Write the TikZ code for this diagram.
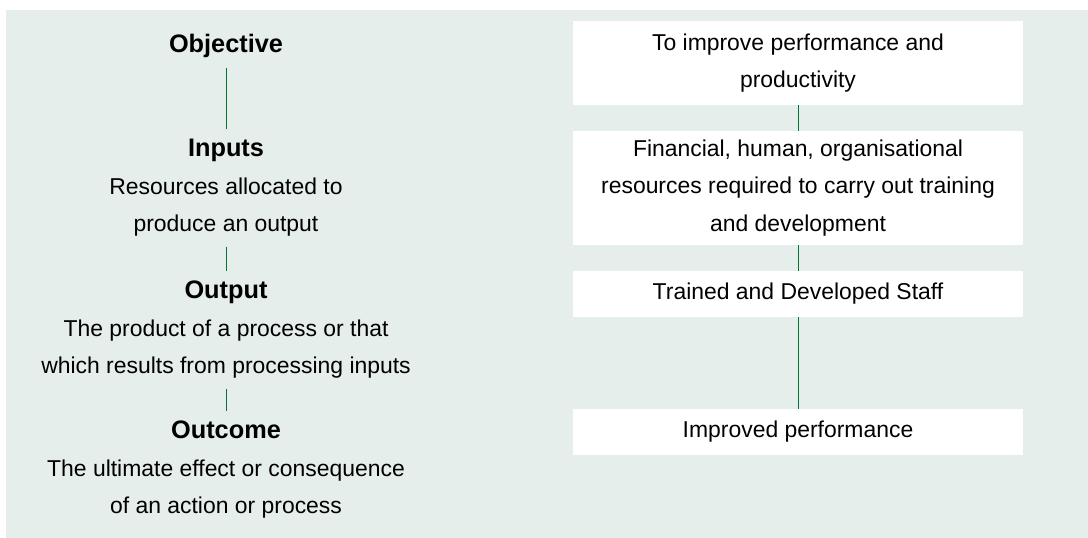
\documentclass[tikz,border=0pt]{standalone}
\usepackage{fontspec}
\setmainfont{Liberation Sans}
\definecolor{panel}{RGB}{229,238,234}
\definecolor{linkgreen}{RGB}{0,115,55}
\newcommand{\txt}{\fontsize{16.3}{26.6}\selectfont}
\newcommand{\ttl}[1]{{\fontsize{18}{26.6}\selectfont\bfseries #1}}

\begin{document}
\begin{tikzpicture}[x=0.025cm, y=-0.025cm,
        term/.style={align=center, font=\txt, inner xsep=0pt, inner ysep=0.25cm, anchor=north},
        stage/.style={fill=white, align=center, font=\txt, minimum width=11.25cm, inner sep=0pt},
        link/.style={draw=linkgreen, line width=0.7pt}]
            \useasboundingbox (0,0) rectangle (1088,538);
            \fill[panel] (6,10) rectangle (1088,538);

            % left column: the terms
            \node[term] (Obj) at (226,24) {\ttl{Objective}};
            \node[term] (Inp) at (226,129) {\ttl{Inputs}\\Resources allocated to\\produce an output};
            \node[term] (Outp) at (226,271) {\ttl{Output}\\The product of a process or that\\which results from processing inputs};
            \node[term] (Outc) at (226,411) {\ttl{Outcome}\\The ultimate effect or consequence\\of an action or process};

            % right column: the training case
            \node[stage, minimum height=2.1cm] (S_obj) at (798,63) {To improve performance and\\productivity};
            \node[stage, minimum height=2.85cm] (S_inp) at (798,188) {Financial, human, organisational\\resources required to carry out training\\and development};
            \node[stage, minimum height=1.15cm] (S_outp) at (798,294) {Trained and Developed Staff};
            \node[stage, minimum height=1.15cm] (S_outc) at (798,432) {Improved performance};

            \draw[link] (Obj) -- (Inp);
            \draw[link] (Inp) -- (Outp);
            \draw[link] (Outp) -- (Outc);
            \draw[link] (S_obj) -- (S_inp);
            \draw[link] (S_inp) -- (S_outp);
            \draw[link] (S_outp) -- (S_outc);
        \end{tikzpicture}
\end{document}
